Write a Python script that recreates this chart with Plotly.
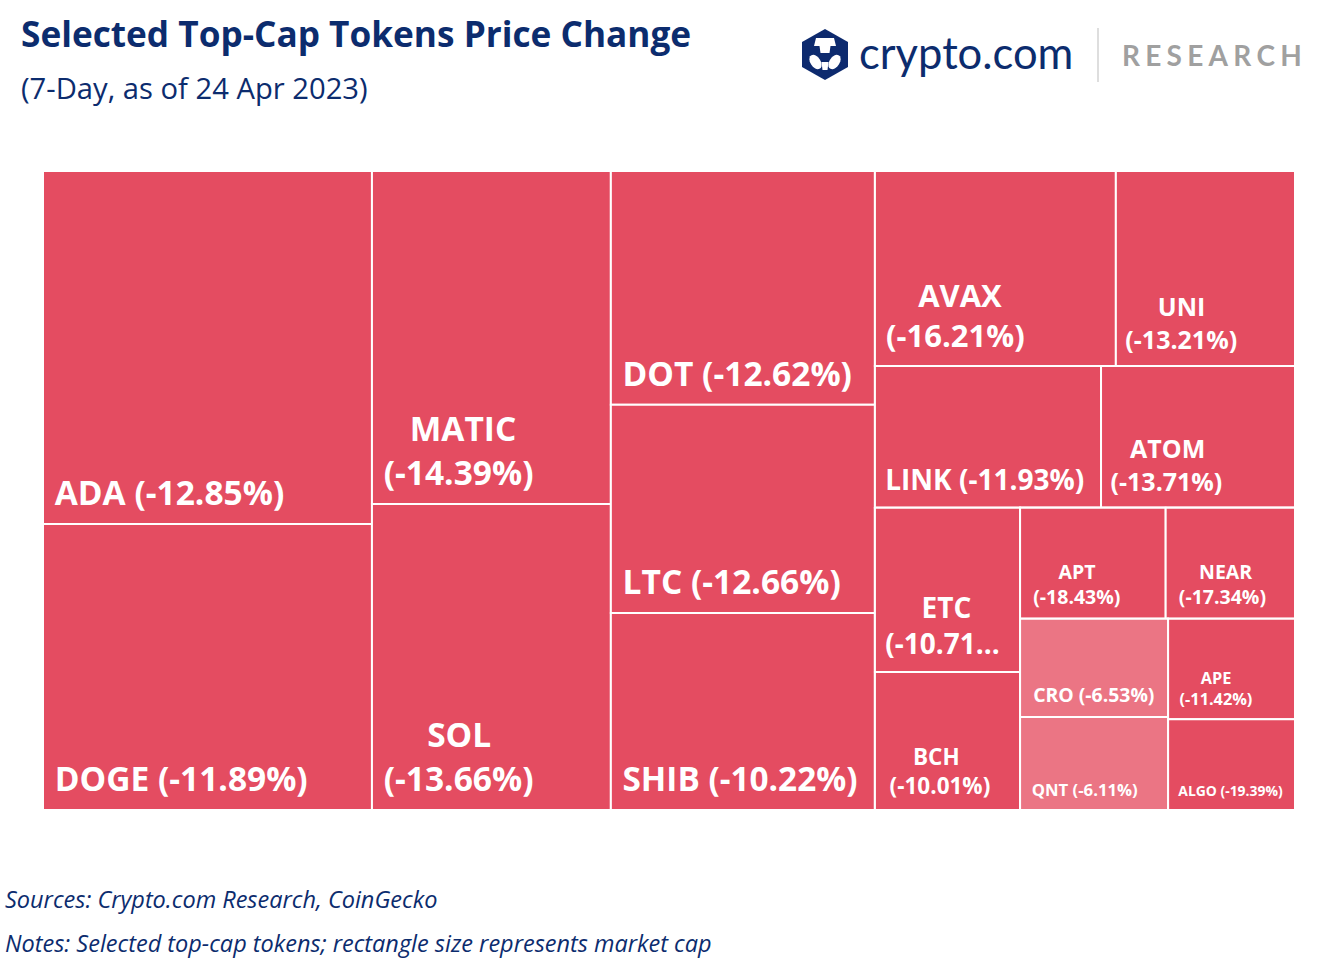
import plotly.graph_objects as go

# ---------------- data ----------------
tokens = ["ADA", "DOGE", "MATIC", "SOL", "DOT", "LTC", "SHIB", "AVAX", "UNI",
          "LINK", "ATOM", "ETC", "BCH", "APT", "NEAR", "CRO", "QNT", "APE", "ALGO"]
change_7d = [-12.85, -11.89, -14.39, -13.66, -12.62, -12.66, -10.22, -16.21, -13.21,
             -11.93, -13.71, -10.71, -10.01, -18.43, -17.34, -6.53, -6.11, -11.42, -19.39]
# relative market cap (rectangle size), estimated from rectangle areas
market_cap = [13.50, 10.94, 9.25, 8.50, 7.18, 6.39, 6.05, 5.46, 4.06,
              3.73, 3.20, 2.77, 2.33, 1.88, 1.67, 1.69, 1.60, 1.48, 1.34]
# layout grouping reproducing the arrangement of the original tiles
token_group = ["C1", "C1", "C2", "C2", "C3", "C3", "C3", "R1", "R1",
               "R2", "R2", "C41", "C41", "T1", "T1", "L", "L", "Rr", "Rr"]
groups = ["all", "C1", "C2", "C3", "C4", "R1", "R2", "R3", "C41", "C42", "T1", "T2", "L", "Rr"]
group_parents = ["", "all", "all", "all", "all", "C4", "C4", "C4", "R3", "R3", "C42", "C42", "T2", "T2"]
truncated = {"ETC": "(-10.71..."}

# ---------------- label styling ----------------
label_size = [33.5, 33.5, 33.5, 33.5, 33.5, 33.5, 33.5, 31, 25, 28, 25, 28, 22.5, 19.5, 19.5, 19.7, 16.7, 16.3, 14]
# number of no-break spaces used to centre the first line over the second (two-line labels)
first_line_indent = {"MATIC": 3, "SOL": 5, "AVAX": 4, "UNI": 5, "ATOM": 3, "ETC": 5,
                     "BCH": 4, "APT": 5, "NEAR": 4, "APE": 5}
left_pad = [1, 1, 1, 1, 1, 1, 1, 1, 1, 1, 1, 1, 2, 2, 2, 2, 2, 2, 2]
BOTTOM_EXTRA = 22  # px added to a trailing spacer's font size -> lifts labels off the tile bottom

RED = "#E44C61"
LIGHT = "#EB7584"
NAVY = "#0C2C6E"
NB = "\u00a0"

ids = groups + tokens
parents = group_parents + token_group
values = [0] * len(groups) + market_cap
texts = [""] * len(groups)
for t, c, lp, fs in zip(tokens, change_7d, left_pad, label_size):
    pct = truncated.get(t, f"({c:.2f}%)")
    pad = NB * lp
    spacer = f"<span style='font-size:{fs + BOTTOM_EXTRA}px'>{NB}</span>"
    if t in first_line_indent:
        texts.append(pad + NB * first_line_indent[t] + t + "<br>" + pad + pct + spacer)
    else:
        texts.append(pad + t + " " + pct + spacer)
colors = [RED] * len(groups) + [LIGHT if c > -10 else RED for c in change_7d]
sizes = [12] * len(groups) + label_size

W, H = 1340, 968
def px(x):
    return x / W
def py(y):
    return 1 - y / H

fig = go.Figure(go.Treemap(
    ids=ids, labels=ids, parents=parents, values=values,
    branchvalues="remainder", sort=False,
    text=texts, textinfo="text", textposition="bottom left",
    textfont=dict(family="Open Sans", size=sizes, color="white", weight="bold"),
    marker=dict(colors=colors, line=dict(color="white", width=2),
                pad=dict(t=0, l=0, r=0, b=0)),
    tiling=dict(packing="slice-dice", pad=0),
    pathbar=dict(visible=False),
    hoverinfo="skip",
    domain=dict(x=[px(43), px(1295)], y=[py(810), py(171)]),
))

annotations = [
    dict(text="<b>Selected Top-Cap Tokens Price Change</b>", x=px(19), y=py(33.5),
         font=dict(family="Open Sans", size=35.2, color=NAVY)),
    dict(text="(7-Day, as of 24 Apr 2023)", x=px(19), y=py(88),
         font=dict(family="Open Sans", size=29.2, color=NAVY)),
    dict(text="<i>Sources: Crypto.com Research, CoinGecko</i>", x=px(3), y=py(899),
         font=dict(family="Open Sans", size=23.5, color=NAVY)),
    dict(text="<i>Notes: Selected top-cap tokens; rectangle size represents market cap</i>",
         x=px(3), y=py(943), font=dict(family="Open Sans", size=23.5, color=NAVY)),
    dict(text="crypto.com", x=px(857), y=py(52),
         font=dict(family="Lato", size=43.5, color=NAVY)),
    dict(text="<b>" + "\u2009\u200a".join("RESEARCH") + "</b>", x=px(1120), y=py(55),
         font=dict(family="Lato", size=28, color="#A0A0A0")),
]
for a in annotations:
    a.update(xref="paper", yref="paper", xanchor="left", yanchor="middle", showarrow=False)

def path(pts):
    return "M " + " L ".join(f"{px(x)},{py(y)}" for x, y in pts) + " Z"

def ellipse_path(cx, cy, rx, ry, n=24, tilt=0.0):
    import math
    pts = []
    for i in range(n):
        a = 2 * math.pi * i / n
        ex, ey = rx * math.cos(a), ry * math.sin(a)
        pts.append((cx + ex * math.cos(tilt) - ey * math.sin(tilt),
                    cy + ex * math.sin(tilt) + ey * math.cos(tilt)))
    return path(pts)

hexagon = [(825, 29), (848, 42), (848, 67), (825, 80), (802, 67), (802, 42)]
hat = [(816, 38), (834, 38), (836, 46), (814, 46)]
neck = [(819.5, 46), (830.5, 46), (829.5, 53), (820.5, 53)]
chin = [(821.5, 62), (828.5, 62), (827.5, 70), (822.5, 70)]

shapes = [
    dict(type="path", path=path(hexagon), fillcolor="#0D2A6E", line=dict(width=0)),
    dict(type="path", path=path(hat), fillcolor="white", line=dict(width=0)),
    dict(type="path", path=path(neck), fillcolor="white", line=dict(width=0)),
    dict(type="path", path=ellipse_path(815.5, 62, 5, 8, tilt=-0.6), fillcolor="white", line=dict(width=0)),
    dict(type="path", path=ellipse_path(834.5, 62, 5, 8, tilt=0.6), fillcolor="white", line=dict(width=0)),
    dict(type="path", path=path(chin), fillcolor="white", line=dict(width=0)),
    dict(type="line", x0=px(1098), x1=px(1098), y0=py(28), y1=py(82),
         line=dict(color="#D3D3D3", width=1.5)),
]
for s in shapes:
    s.update(xref="paper", yref="paper")

fig.update_layout(
    width=W, height=H, margin=dict(l=0, r=0, t=0, b=0),
    paper_bgcolor="white", plot_bgcolor="white",
    annotations=annotations, shapes=shapes, showlegend=False,
)

fig.write_html("out.html", config={"displayModeBar": False},
               post_script="document.body.style.margin='0';")
